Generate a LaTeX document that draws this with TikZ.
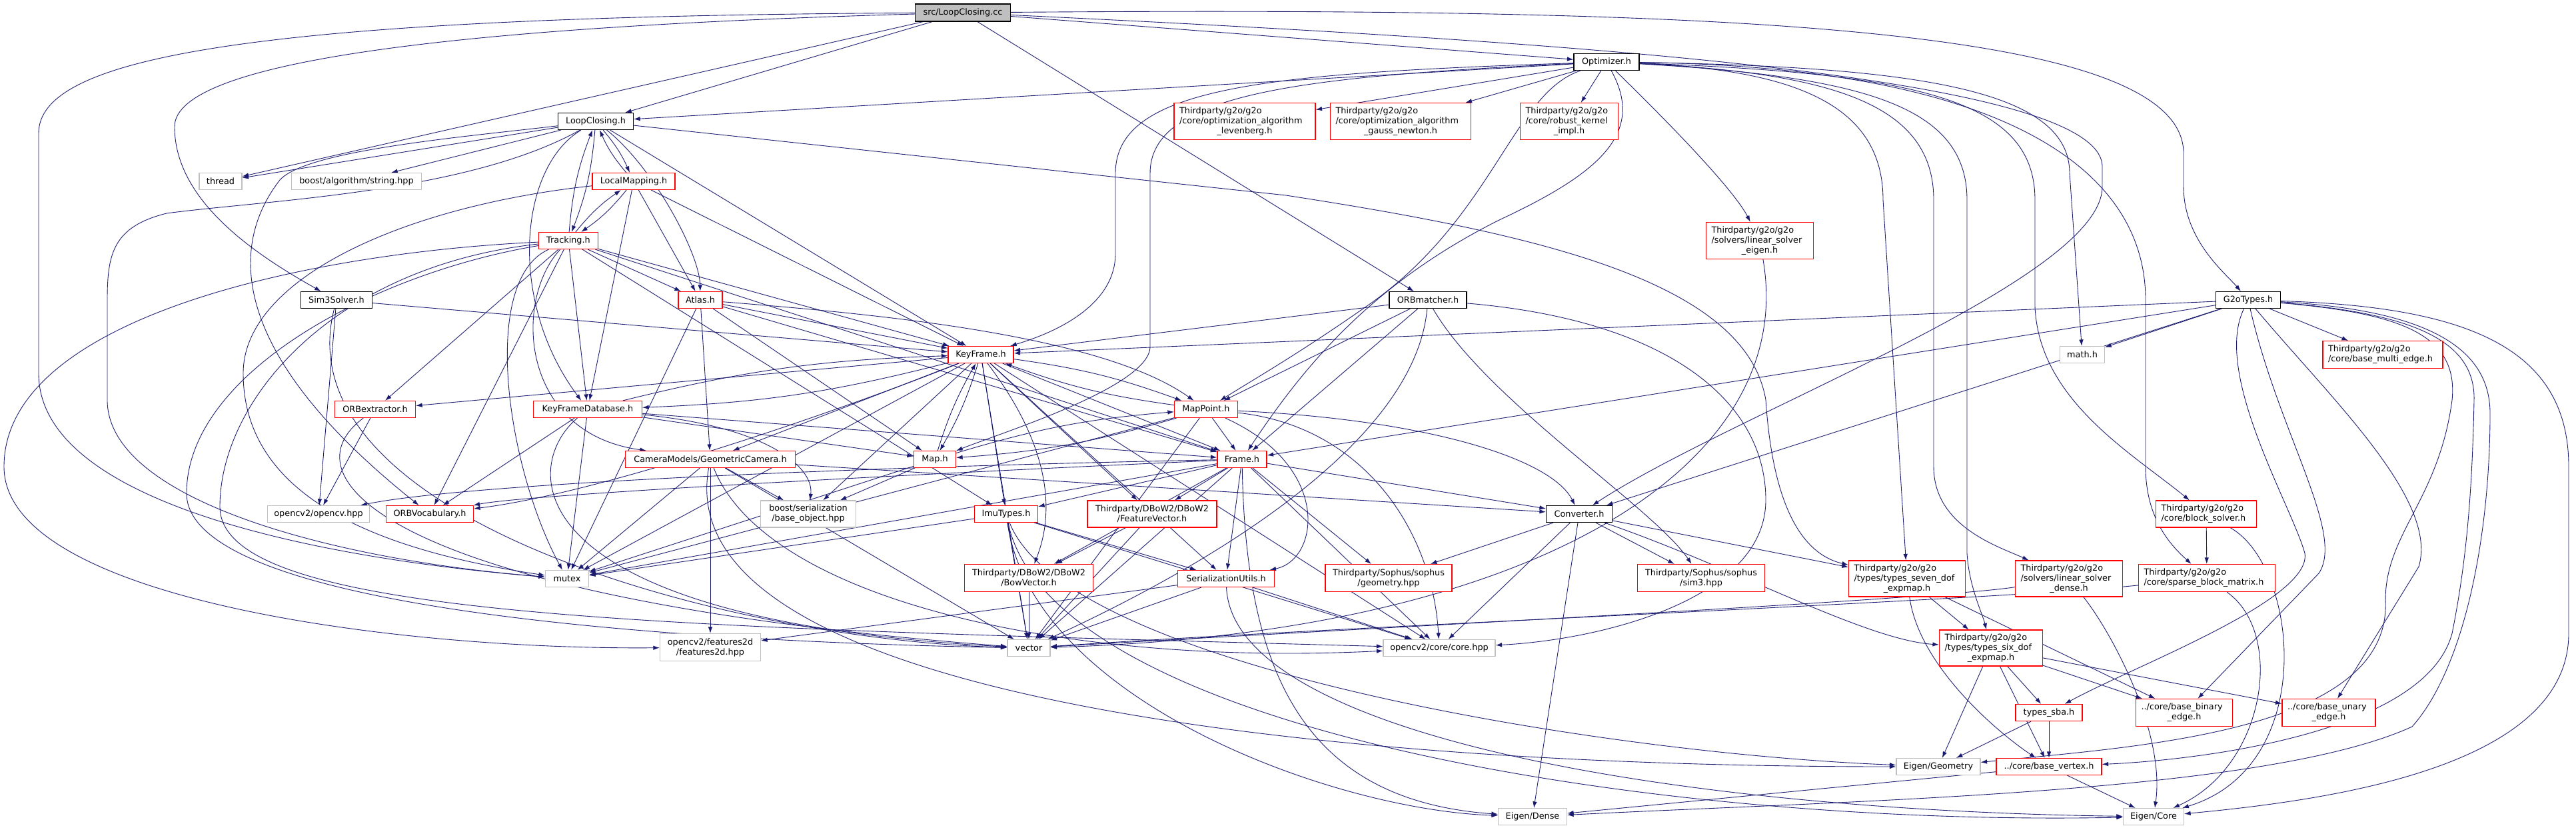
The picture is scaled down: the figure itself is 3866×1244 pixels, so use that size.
\documentclass[tikz,border=0pt]{standalone}
\usepackage{fontspec}
\setmainfont{DejaVu Sans}
\usetikzlibrary{arrows.meta}
\definecolor{midnightblue}{rgb}{0.10,0.10,0.44}
\definecolor{hdrgrey}{rgb}{0.75,0.75,0.75}
\newcommand\hdrfont{\fontsize{7.3}{8.5}\selectfont}
\newcommand\lastln[1]{\hbox to\hsize{\hfil#1\hfil}}
\pgfdeclarelayer{bg}
\pgfdeclarelayer{edges}
\pgfsetlayers{bg,edges,main}
\tikzset{
  hdr/.style={
    draw=black,
    fill=white,
    line width=0.7pt,
    font=\hdrfont,
    minimum height=0.5cm,
    inner xsep=0.16cm,
    inner ysep=0.04cm
  },
  hdrsrc/.style={hdr, fill=hdrgrey},
  hdrred/.style={hdr, draw=red},
  hdrsys/.style={hdr, draw=hdrgrey},
  multi/.style={align=left, text width=#1},
  twoline/.style={minimum height=0.82cm},
  threeline/.style={minimum height=1.1cm},
  inc/.style={
    -{Latex[length=0.19cm,width=0.13cm]},
    draw=midnightblue,
    line width=0.5pt
  }
}

\begin{document}
\begin{tikzpicture}[x=0.02cm,y=-0.02cm]
\begin{pgfonlayer}{bg}
\fill[white] (0,0) rectangle (3866,1244);
\end{pgfonlayer}
\useasboundingbox (0,0) rectangle (3866,1244);

% rank 0 .. 2
\node[hdrsrc,minimum width=2.86cm,minimum height=0.52cm] (cc) at (1445,19) {src/LoopClosing.cc};
\node[hdr,minimum width=1.96cm] (opt) at (2411,93) {Optimizer.h};
\node[hdr,minimum width=2.26cm] (lch) at (894,182) {LoopClosing.h};
\node[hdrred,threeline,multi=3.92cm] (lev) at (1868,182) {Thirdparty/g2o/g2o\\/core/optimization\_algorithm\\\lastln{\_levenberg.h}};
\node[hdrred,threeline,multi=3.90cm] (gn) at (2102,182) {Thirdparty/g2o/g2o\\/core/optimization\_algorithm\\\lastln{\_gauss\_newton.h}};
\node[hdrred,threeline,multi=2.62cm] (rk) at (2355,182) {Thirdparty/g2o/g2o\\/core/robust\_kernel\\\lastln{\_impl.h}};

% rank 3 .. 4
\node[hdrsys,minimum width=1.28cm] (thr) at (331,272) {thread};
\node[hdrsys,minimum width=3.90cm] (bas) at (535,272) {boost/algorithm/string.hpp};
\node[hdrred,minimum width=2.48cm] (lm) at (951,272) {LocalMapping.h};
\node[hdrred,minimum width=1.78cm] (trk) at (853,361) {Tracking.h};
\node[hdrred,threeline,multi=2.90cm] (lse) at (2641,361) {Thirdparty/g2o/g2o\\/solvers/linear\_solver\\\lastln{\_eigen.h}};

% rank 5 .. 6
\node[hdr,minimum width=2.14cm] (sim) at (505,450) {Sim3Solver.h};
\node[hdrred,minimum width=1.32cm] (atl) at (1051,450) {Atlas.h};
\node[hdr,minimum width=2.32cm] (orbm) at (2143,450) {ORBmatcher.h};
\node[hdr,minimum width=1.94cm] (g2t) at (3374,450) {G2oTypes.h};
\node[hdrred,minimum width=1.96cm] (kf) at (1472,532) {KeyFrame.h};
\node[hdrsys,minimum width=1.34cm] (math) at (3125,532) {math.h};
\node[hdrred,twoline,multi=3.28cm] (bme) at (3576,532) {Thirdparty/g2o/g2o\\/core/base\_multi\_edge.h};

% rank 7 .. 8
\node[hdrred,minimum width=2.42cm] (orbx) at (563,614) {ORBextractor.h};
\node[hdrred,minimum width=3.26cm] (kfdb) at (882,614) {KeyFrameDatabase.h};
\node[hdrred,minimum width=1.90cm] (mp) at (1810,614) {MapPoint.h};
\node[hdrred,minimum width=5.10cm] (cam) at (1066,689) {CameraModels/GeometricCamera.h};
\node[hdrred,minimum width=1.26cm] (map) at (1403,689) {Map.h};
\node[hdrred,minimum width=1.48cm] (frm) at (1864,689) {Frame.h};

% rank 9
\node[hdrsys,minimum width=3.06cm] (ocv) at (478,771) {opencv2/opencv.hpp};
\node[hdrred,minimum width=2.62cm] (voc) at (645,771) {ORBVocabulary.h};
\node[hdrsys,align=center,minimum width=2.86cm,minimum height=0.8cm] (bso) at (1213,771) {boost/serialization\\/base\_object.hpp};
\node[hdrred,minimum width=1.90cm] (imu) at (1510,771) {ImuTypes.h};
\node[hdrred,align=center,minimum width=3.88cm,minimum height=0.8cm] (fv) at (1729,771) {Thirdparty/DBoW2/DBoW2\\/FeatureVector.h};
\node[hdr,minimum width=1.98cm] (conv) at (2370,771) {Converter.h};
\node[hdrred,multi=2.70cm,minimum height=0.8cm] (bs) at (3311,771) {Thirdparty/g2o/g2o\\/core/block\_solver.h};

% rank 10
\node[hdrsys,minimum width=1.30cm] (mtx) at (851,868) {mutex};
\node[hdrred,twoline,align=center,minimum width=3.86cm] (bow) at (1544,867) {Thirdparty/DBoW2/DBoW2\\/BowVector.h};
\node[hdrred,minimum width=2.90cm] (ser) at (1840,868) {SerializationUtils.h};
\node[hdrred,twoline,align=center,minimum width=3.80cm] (geo) at (2084,867) {Thirdparty/Sophus/sophus\\/geometry.hpp};
\node[hdrred,twoline,align=center,minimum width=3.82cm] (s3) at (2553,867) {Thirdparty/Sophus/sophus\\/sim3.hpp};
\node[hdrred,multi=3.18cm,minimum height=1.08cm] (sev) at (2862,868) {Thirdparty/g2o/g2o\\/types/types\_seven\_dof\\\lastln{\_expmap.h}};
\node[hdrred,multi=2.90cm,minimum height=1.08cm] (lsd) at (3105,868) {Thirdparty/g2o/g2o\\/solvers/linear\_solver\\\lastln{\_dense.h}};
\node[hdrred,twoline,multi=3.78cm] (sbm) at (3312,867) {Thirdparty/g2o/g2o\\/core/sparse\_block\_matrix.h};

% rank 11 .. 14
\node[hdrsys,twoline,align=center,minimum width=3.02cm] (f2d) at (1066,971) {opencv2/features2d\\/features2d.hpp};
\node[hdrsys,minimum width=1.28cm] (vec) at (1544,972) {vector};
\node[hdrsys,minimum width=3.36cm] (core) at (2160,972) {opencv2/core/core.hpp};
\node[hdrred,multi=2.78cm,minimum height=1.08cm] (six) at (2988,972) {Thirdparty/g2o/g2o\\/types/types\_six\_dof\\\lastln{\_expmap.h}};
\node[hdrred,minimum width=2.00cm] (sba) at (3075,1069) {types\_sba.h};
\node[hdrred,twoline,multi=2.58cm] (bbe) at (3278,1069) {../core/base\_binary\\\lastln{\_edge.h}};
\node[hdrred,twoline,multi=2.48cm] (bue) at (3495,1069) {../core/base\_unary\\\lastln{\_edge.h}};
\node[hdrsys,minimum width=2.52cm] (geom) at (2909,1150) {Eigen/Geometry};
\node[hdrred,minimum width=3.16cm] (bv) at (3075,1150) {../core/base\_vertex.h};
\node[hdrsys,minimum width=2.06cm] (dense) at (2300,1225) {Eigen/Dense};
\node[hdrsys,minimum width=1.82cm] (ecore) at (3232,1225) {Eigen/Core};

\begin{pgfonlayer}{edges}
% src/LoopClosing.cc
\draw[inc] (cc) -- (lch);
\draw[inc] (cc) -- (opt);
\draw[inc] (cc) -- (thr);
\draw[inc] (cc) .. controls (700,40) and (262,90) .. (262,190) .. controls (262,300) and (380,380) .. (sim);
\draw[inc] (cc) .. controls (350,25) and (58,90) .. (58,200) -- (58,560) .. controls (58,760) and (500,840) .. (mtx);
\draw[inc] (cc) -- (orbm);
\draw[inc] (cc) .. controls (2600,10) and (3277,40) .. (3277,230) -- (3277,280) .. controls (3277,360) and (3340,410) .. (g2t);
\draw[inc] (cc) .. controls (2300,60) and (3155,110) .. (3155,250) -- (3155,280) .. controls (3155,420) and (2600,620) .. (conv);

% Optimizer.h
\draw[inc] (opt) -- (lch);
\draw[inc] (opt) -- (lev);
\draw[inc] (opt) -- (gn);
\draw[inc] (opt) -- (rk);
\draw[inc] (opt) .. controls (2480,160) and (2600,280) .. (lse);
\draw[inc] (opt) .. controls (1900,110) and (1674,130) .. (1674,260) -- (1674,380) .. controls (1674,460) and (1580,500) .. (kf);
\draw[inc] (opt) .. controls (1950,115) and (1726,140) .. (1726,260) -- (1726,520) .. controls (1726,580) and (1500,650) .. (map);
\draw[inc] (opt) .. controls (2270,140) and (2240,330) .. (2050,460) .. controls (1950,530) and (1880,570) .. (mp);
\draw[inc] (opt) .. controls (2470,200) and (2400,260) .. (2250,330) .. controls (2050,430) and (1950,560) .. (frm);
\draw[inc] (opt) .. controls (2900,100) and (3106,140) .. (3106,260) -- (math);
\draw[inc] (opt) .. controls (2880,110) and (3054,150) .. (3054,300) -- (3054,460) .. controls (3060,600) and (3200,680) .. (bs);
\draw[inc] (opt) .. controls (2800,115) and (2952,160) .. (2952,300) -- (2952,830) .. controls (2955,880) and (2975,920) .. (six);
\draw[inc] (opt) .. controls (2760,110) and (2902,160) .. (2902,300) -- (2902,700) .. controls (2902,790) and (3000,820) .. (lsd);
\draw[inc] (opt) .. controls (2700,105) and (2826,160) .. (2826,300) -- (sev);
\draw[inc] (opt) .. controls (3000,100) and (3220,250) .. (3220,450) -- (3220,700) .. controls (3220,780) and (3260,820) .. (sbm);

% LoopClosing.h
\draw[inc] (lch) -- (thr);
\draw[inc] (lch) -- (bas);
\draw[inc] (lch) to[bend left=8] (lm);
\draw[inc] (lch) to[bend left=8] (trk);
\draw[inc] (lch) .. controls (980,250) and (1050,380) .. (atl);
\draw[inc] (lch) -- (kf);
\draw[inc] (lch) .. controls (780,250) and (760,450) .. (kfdb);
\draw[inc] (lch) .. controls (700,205) and (460,225) .. (420,270) .. controls (350,360) and (330,520) .. (voc);
\draw[inc] (lch) .. controls (700,290) and (400,300) .. (250,320) .. controls (170,340) and (161,380) .. (161,450) -- (161,600) .. controls (161,750) and (500,840) .. (mtx);
\draw[inc] (lch) -- (1930,293) .. controls (2300,350) and (2620,420) .. (2650,600) .. controls (2660,750) and (2700,830) .. (sev);

% LocalMapping.h
\draw[inc] (lm) to[bend left=8] (lch);
\draw[inc] (lm) to[bend left=8] (trk);
\draw[inc] (lm) -- (atl);
\draw[inc] (lm) -- (kf);
\draw[inc] (lm) -- (kfdb);
\draw[inc] (lm) .. controls (600,310) and (365,420) .. (365,560) .. controls (365,760) and (600,830) .. (mtx);

% Tracking.h
\draw[inc] (trk) to[bend left=8] (lch);
\draw[inc] (trk) to[bend left=8] (lm);
\draw[inc] (trk) -- (atl);
\draw[inc] (trk) -- (kf);
\draw[inc] (trk) -- (kfdb);
\draw[inc] (trk) -- (orbx);
\draw[inc] (trk) -- (voc);
\draw[inc] (trk) .. controls (770,450) and (780,650) .. (cam);
\draw[inc] (trk) -- (frm);
\draw[inc] (trk) -- (imu);
\draw[inc] (trk) .. controls (720,420) and (760,700) .. (mtx);
\draw[inc] (trk) .. controls (450,380) and (6,480) .. (6,700) .. controls (6,900) and (600,975) .. (f2d);
\draw[inc] (trk) .. controls (500,400) and (330,600) .. (330,760) .. controls (330,930) and (1000,940) .. (core);
\draw[inc] (trk) .. controls (560,410) and (280,560) .. (280,740) .. controls (280,900) and (900,960) .. (vec);

% Sim3Solver.h and ORBextractor.h
\draw[inc] (sim) -- (kf);
\draw[inc] (sim) -- (ocv);
\draw[inc] (sim) .. controls (420,780) and (1100,960) .. (vec);
\draw[inc] (orbx) -- (ocv);
\draw[inc] (orbx) .. controls (420,720) and (600,900) .. (vec);

% Atlas.h
\draw[inc] (atl) -- (kf);
\draw[inc] (atl) .. controls (1300,470) and (1650,500) .. (mp);
\draw[inc] (atl) -- (map);
\draw[inc] (atl) -- (cam);
\draw[inc] (atl) -- (frm);
\draw[inc] (atl) -- (mtx);

% ORBmatcher.h
\draw[inc] (orbm) -- (kf);
\draw[inc] (orbm) -- (mp);
\draw[inc] (orbm) -- (frm);
\draw[inc] (orbm) .. controls (2230,600) and (2480,760) .. (s3);
\draw[inc] (orbm) .. controls (2500,480) and (2650,600) .. (2650,750) .. controls (2650,900) and (2400,960) .. (core);
\draw[inc] (orbm) .. controls (2120,700) and (1700,900) .. (vec);

% G2oTypes.h
\draw[inc] (g2t) -- (kf);
\draw[inc] (g2t) -- (frm);
\draw[inc] (g2t) -- (conv);
\draw[inc] (g2t) -- (math);
\draw[inc] (g2t) -- (bme);
\draw[inc] (g2t) .. controls (3320,560) and (3440,760) .. (3459,830) .. controls (3470,900) and (3200,1000) .. (sba);
\draw[inc] (g2t) .. controls (3420,650) and (3520,800) .. (3480,860) -- (bbe);
\draw[inc] (g2t) .. controls (3500,600) and (3660,750) .. (3630,850) -- (bue);
\draw[inc] (g2t) .. controls (3600,470) and (3690,500) .. (3680,600) .. controls (3660,750) and (3580,800) .. (3580,900) .. controls (3590,1100) and (3200,1120) .. (geom);
\draw[inc] (g2t) .. controls (3620,470) and (3715,510) .. (3713,600) .. controls (3710,750) and (3700,850) .. (3680,950) .. controls (3640,1100) and (3300,1140) .. (bv);
\draw[inc] (g2t) .. controls (3640,465) and (3737,520) .. (3737,620) .. controls (3737,800) and (3700,1000) .. (3620,1090) .. controls (3400,1190) and (2800,1200) .. (dense);
\draw[inc] (g2t) .. controls (3700,460) and (3855,520) .. (3855,700) -- (3855,950) .. controls (3855,1150) and (3500,1200) .. (ecore);

% KeyFrame.h
\draw[inc] (kf) to[bend left=6] (mp);
\draw[inc] (kf) -- (frm);
\draw[inc] (kf) to[bend left=6] (kfdb);
\draw[inc] (kf) -- (orbx);
\draw[inc] (kf) .. controls (1250,620) and (900,740) .. (voc);
\draw[inc] (kf) -- (cam);
\draw[inc] (kf) to[bend left=6] (map);
\draw[inc] (kf) -- (bso);
\draw[inc] (kf) -- (imu);
\draw[inc] (kf) -- (fv);
\draw[inc] (kf) .. controls (1600,700) and (1570,800) .. (bow);
\draw[inc] (kf) -- (ser);
\draw[inc] (kf) -- (mtx);
\draw[inc] (kf) -- (vec);
\draw[inc] (kf) -- (core);

% KeyFrameDatabase.h
\draw[inc] (kfdb) to[bend left=6] (kf);
\draw[inc] (kfdb) -- (map);
\draw[inc] (kfdb) -- (frm);
\draw[inc] (kfdb) -- (voc);
\draw[inc] (kfdb) -- (mtx);
\draw[inc] (kfdb) .. controls (1150,640) and (1222,700) .. (bso);
\draw[inc] (kfdb) .. controls (780,700) and (770,930) .. (vec);

% MapPoint.h
\draw[inc] (mp) to[bend left=6] (kf);
\draw[inc] (mp) -- (frm);
\draw[inc] (mp) to[bend left=6] (map);
\draw[inc] (mp) .. controls (2150,630) and (2330,690) .. (conv);
\draw[inc] (mp) .. controls (2000,700) and (1980,840) .. (ser);
\draw[inc] (mp) -- (mtx);
\draw[inc] (mp) .. controls (2050,640) and (2150,800) .. (core);
\draw[inc] (mp) -- (vec);

% Map.h
\draw[inc] (map) to[bend left=6] (kf);
\draw[inc] (map) to[bend left=6] (mp);
\draw[inc] (map) -- (bso);
\draw[inc] (map) -- (mtx);

% CameraModels/GeometricCamera.h
\draw[inc] (cam) -- (bso);
\draw[inc] (cam) -- (f2d);
\draw[inc] (cam) -- (conv);
\draw[inc] (cam) -- (vec);
\draw[inc] (cam) -- (mtx);
\draw[inc] (cam) .. controls (1150,900) and (1600,1000) .. (core);
\draw[inc] (cam) .. controls (1000,1050) and (2000,1150) .. (geom);

% Frame.h
\draw[inc] (frm) -- (imu);
\draw[inc] (frm) -- (fv);
\draw[inc] (frm) -- (bow);
\draw[inc] (frm) -- (ser);
\draw[inc] (frm) -- (geo);
\draw[inc] (frm) -- (conv);
\draw[inc] (frm) .. controls (1500,705) and (800,740) .. (voc);
\draw[inc] (frm) .. controls (1300,700) and (700,725) .. (ocv);
\draw[inc] (frm) -- (mtx);
\draw[inc] (frm) -- (vec);
\draw[inc] (frm) -- (core);
\draw[inc] (frm) .. controls (1870,1000) and (1950,1200) .. (dense);

% ImuTypes.h
\draw[inc] (imu) -- (ser);
\draw[inc] (imu) -- (vec);
\draw[inc] (imu) -- (mtx);
\draw[inc] (imu) -- (core);
\draw[inc] (imu) .. controls (1600,1000) and (2400,1130) .. (geom);
\draw[inc] (imu) .. controls (1550,1050) and (2000,1215) .. (dense);
\draw[inc] (imu) .. controls (1580,1100) and (2500,1240) .. (ecore);

% SerializationUtils.h, FeatureVector.h, BowVector.h
\draw[inc] (ser) -- (f2d);
\draw[inc] (ser) -- (vec);
\draw[inc] (ser) -- (core);
\draw[inc] (ser) .. controls (1850,1100) and (2500,1215) .. (ecore);
\draw[inc] (fv) -- (bow);
\draw[inc] (fv) -- (vec);
\draw[inc] (bow) -- (vec);

% Converter.h
\draw[inc] (conv) -- (core);
\draw[inc] (conv) -- (dense);
\draw[inc] (conv) -- (sev);
\draw[inc] (conv) .. controls (2600,850) and (2800,960) .. (six);
\draw[inc] (conv) -- (s3);
\draw[inc] (conv) -- (geo);

% g2o headers
\draw[inc] (lse) .. controls (2700,700) and (2300,950) .. (vec);
\draw[inc] (bs) -- (sbm);
\draw[inc] (bs) .. controls (3450,850) and (3480,1150) .. (ecore);
\draw[inc] (sbm) .. controls (3430,950) and (3400,1150) .. (ecore);
\draw[inc] (sbm) .. controls (3000,900) and (2000,940) .. (vec);
\draw[inc] (lsd) .. controls (3170,950) and (3250,1100) .. (ecore);
\draw[inc] (lsd) .. controls (2900,900) and (2000,945) .. (vec);
\draw[inc] (sev) -- (six);
\draw[inc] (sev) -- (bbe);
\draw[inc] (sev) .. controls (2880,1000) and (3000,1100) .. (bv);
\draw[inc] (six) -- (sba);
\draw[inc] (six) -- (bbe);
\draw[inc] (six) -- (bue);
\draw[inc] (six) -- (geom);
\draw[inc] (six) -- (bv);
\draw[inc] (sba) -- (geom);
\draw[inc] (sba) -- (bv);
\draw[inc] (bv) -- (ecore);
\draw[inc] (bv) -- (dense);
\end{pgfonlayer}
\end{tikzpicture}
\end{document}
